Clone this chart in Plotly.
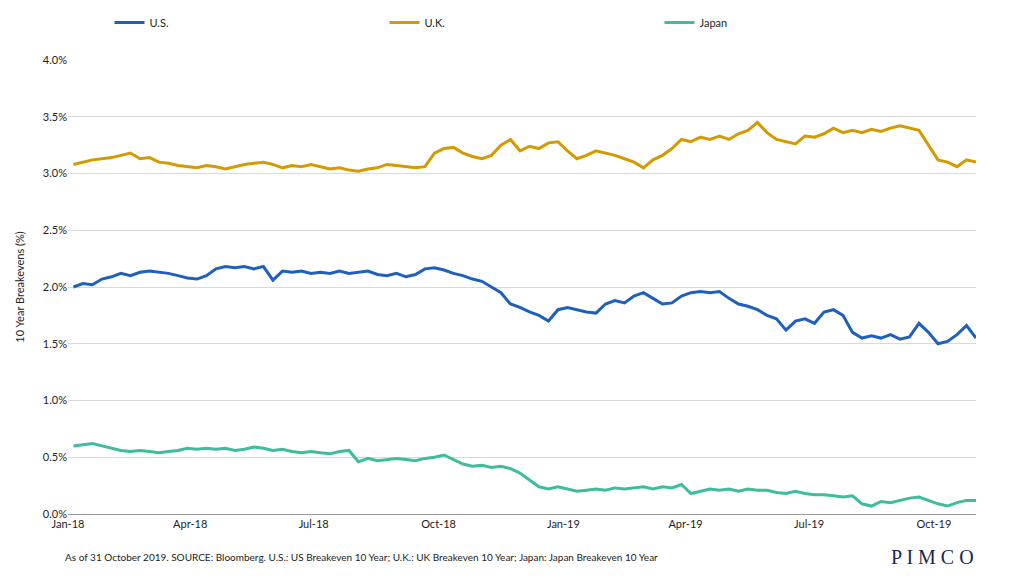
import pandas as pd
import plotly.graph_objects as go

# weekly readings, one row per quarter, Jan-2018 .. end Oct-2019
us = [
    2.00, 2.03, 2.02, 2.07, 2.09, 2.12, 2.10, 2.13, 2.14, 2.13, 2.12, 2.10, 2.08,
    2.07, 2.10, 2.16, 2.18, 2.17, 2.18, 2.16, 2.18, 2.06, 2.14, 2.13, 2.14, 2.12,
    2.13, 2.12, 2.14, 2.12, 2.13, 2.14, 2.11, 2.10, 2.12, 2.09, 2.11, 2.16, 2.17,
    2.15, 2.12, 2.10, 2.07, 2.05, 2.00, 1.95, 1.85, 1.82, 1.78, 1.75, 1.70, 1.80,
    1.82, 1.80, 1.78, 1.77, 1.85, 1.88, 1.86, 1.92, 1.95, 1.90, 1.85, 1.86, 1.92,
    1.95, 1.96, 1.95, 1.96, 1.90, 1.85, 1.83, 1.80, 1.75, 1.72, 1.62, 1.70, 1.72,
    1.68, 1.78, 1.80, 1.75, 1.60, 1.55, 1.57, 1.55, 1.58, 1.54, 1.56, 1.68, 1.60,
    1.50, 1.52, 1.58, 1.66, 1.55,
]
uk = [
    3.08, 3.10, 3.12, 3.13, 3.14, 3.16, 3.18, 3.13, 3.14, 3.10, 3.09, 3.07, 3.06,
    3.05, 3.07, 3.06, 3.04, 3.06, 3.08, 3.09, 3.10, 3.08, 3.05, 3.07, 3.06, 3.08,
    3.06, 3.04, 3.05, 3.03, 3.02, 3.04, 3.05, 3.08, 3.07, 3.06, 3.05, 3.06, 3.18,
    3.22, 3.23, 3.18, 3.15, 3.13, 3.16, 3.25, 3.30, 3.20, 3.24, 3.22, 3.27, 3.28,
    3.20, 3.13, 3.16, 3.20, 3.18, 3.16, 3.13, 3.10, 3.05, 3.12, 3.16, 3.22, 3.30,
    3.28, 3.32, 3.30, 3.33, 3.30, 3.35, 3.38, 3.45, 3.36, 3.30, 3.28, 3.26, 3.33,
    3.32, 3.35, 3.40, 3.36, 3.38, 3.36, 3.39, 3.37, 3.40, 3.42, 3.40, 3.38, 3.25,
    3.12, 3.10, 3.06, 3.12, 3.10,
]
japan = [
    0.60, 0.61, 0.62, 0.60, 0.58, 0.56, 0.55, 0.56, 0.55, 0.54, 0.55, 0.56, 0.58,
    0.57, 0.58, 0.57, 0.58, 0.56, 0.57, 0.59, 0.58, 0.56, 0.57, 0.55, 0.54, 0.55,
    0.54, 0.53, 0.55, 0.56, 0.46, 0.49, 0.47, 0.48, 0.49, 0.48, 0.47, 0.49, 0.50,
    0.52, 0.48, 0.44, 0.42, 0.43, 0.41, 0.42, 0.40, 0.36, 0.30, 0.24, 0.22, 0.24,
    0.22, 0.20, 0.21, 0.22, 0.21, 0.23, 0.22, 0.23, 0.24, 0.22, 0.24, 0.23, 0.26,
    0.18, 0.20, 0.22, 0.21, 0.22, 0.20, 0.22, 0.21, 0.21, 0.19, 0.18, 0.20, 0.18,
    0.17, 0.17, 0.16, 0.15, 0.16, 0.09, 0.07, 0.11, 0.10, 0.12, 0.14, 0.15, 0.12,
    0.09, 0.07, 0.10, 0.12, 0.12,
]
dates = pd.date_range("2018-01-05", periods=len(us), freq="W-FRI")
tick_vals = pd.date_range("2018-01-01", "2019-10-01", freq="QS")
tick_text = [d.strftime("%b-%y") for d in tick_vals]

fig = go.Figure()
for name, vals, color in [("U.S.", us, "#1f5fbf"), ("U.K.", uk, "#d49a00"), ("Japan", japan, "#3dbd9c")]:
    fig.add_trace(go.Scatter(x=dates, y=vals, mode="lines", name=name,
                             line=dict(color=color, width=3)))

fig.update_layout(
    width=1025, height=576,
    margin=dict(l=60, r=57, t=52, b=70, autoexpand=False),
    plot_bgcolor="white", paper_bgcolor="white",
    font=dict(family="Lato, Arial", size=11, color="#222"),
    legend=dict(orientation="h", x=0.5, xanchor="center", yref="container", y=0.975,
                yanchor="middle", entrywidth=230, entrywidthmode="pixels",
                traceorder="normal"),
    xaxis=dict(range=["2018-01-01", "2019-11-01"], tickvals=tick_vals, ticktext=tick_text,
               showgrid=False, showline=True, linecolor="#999", ticks=""),
    yaxis=dict(range=[0, 4.0], dtick=0.5, tickformat=".1f", ticksuffix="%",
               gridcolor="#d9d9d9", zeroline=False,
               title=dict(text="10 Year Breakevens (%)", font=dict(size=11))),
    annotations=[
        dict(text="As of 31 October 2019. SOURCE: Bloomberg. U.S.: US Breakeven 10 Year; U.K.: UK Breakeven 10 Year; Japan: Japan Breakeven 10 Year",
             xref="paper", yref="paper", x=-0.005, y=-0.095, xanchor="left", yanchor="middle",
             showarrow=False, font=dict(size=10)),
        dict(text="P I M C O", xref="paper", yref="paper", x=1.0, y=-0.095, xanchor="right",
             yanchor="middle", showarrow=False,
             font=dict(family="Liberation Serif", size=20, color="#1b2a4a")),
    ],
)
fig.write_html("out.html")
